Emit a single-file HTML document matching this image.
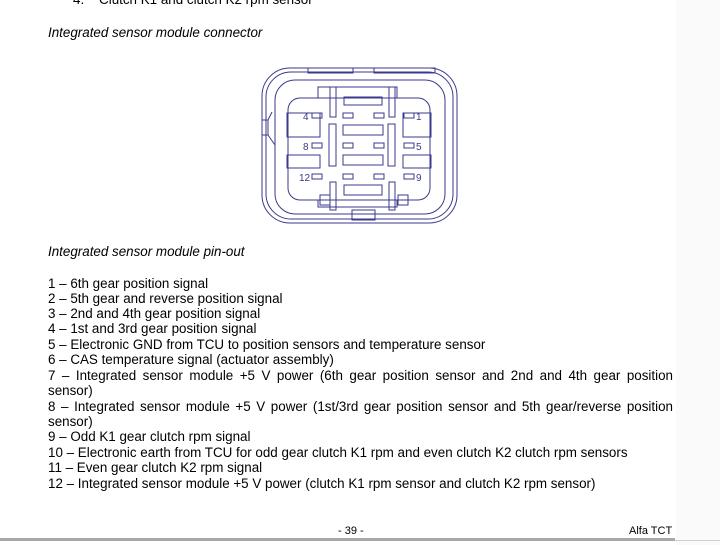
<!DOCTYPE html>
<html><head><meta charset="utf-8"><style>
body{margin:0;width:720px;height:545px;background:#fff;position:relative;overflow:hidden;font-family:"Liberation Sans",Arial,sans-serif;color:#000}
.t{position:absolute;font-size:13.4px;line-height:15.4px;white-space:nowrap}
.j{position:absolute;left:48px;width:625px;font-size:13.4px;line-height:15.4px;text-align:justify;text-align-last:justify;white-space:nowrap}
.i{font-style:italic}
</style></head><body>
<div style="position:absolute;left:676px;top:0;width:44px;height:545px;background:#fafafa"></div>
<div class="t" style="left:73px;top:-8px">4.&nbsp;&nbsp;&nbsp;&nbsp;Clutch K1 and clutch K2 rpm sensor</div>
<div class="t i" style="left:48px;top:25px">Integrated sensor module connector</div>
<svg style="position:absolute;left:0;top:0" width="720" height="545" fill="none" stroke="#3a3a8c" stroke-width="1">
<rect x="262" y="68" width="195" height="155" rx="28"/>
<rect x="266" y="72" width="187" height="147" rx="25"/>
<rect x="308" y="68" width="45" height="5"/><rect x="374" y="68" width="61" height="5"/>
<rect x="352" y="210" width="23" height="10"/>
<rect x="275" y="80" width="170" height="134" rx="20"/>
<path d="M262 120 H268 V135 H262 M268 135 L275 145 M268 120 L272 112"/>
<path d="M318 98 V87 H397 V98 M318 200 V207 H397 V200"/>
<rect x="288" y="98" width="142" height="102" rx="12"/>
<rect x="330" y="87" width="6" height="30"/><rect x="389" y="87" width="6" height="30"/>
<rect x="330" y="182" width="6" height="28"/><rect x="389" y="182" width="6" height="28"/>
<rect x="344" y="97" width="38" height="8"/><rect x="344" y="185" width="38" height="10"/>
<rect x="329" y="124" width="7" height="42"/><rect x="388" y="124" width="7" height="42"/>
<rect x="343" y="125" width="40" height="10"/><rect x="343" y="155" width="40" height="10"/>
<rect x="287" y="113" width="33" height="24"/><rect x="287" y="155" width="33" height="13"/>
<rect x="403" y="113" width="28" height="24"/><rect x="403" y="155" width="28" height="13"/>
<rect x="320" y="195" width="10" height="10"/><rect x="398" y="195" width="10" height="10"/>
<g>
<rect x="312" y="113" width="10" height="5"/><rect x="343" y="113" width="10" height="5"/><rect x="374" y="113" width="10" height="5"/><rect x="404" y="113" width="10" height="5"/>
<rect x="312" y="143" width="10" height="5"/><rect x="343" y="143" width="10" height="5"/><rect x="374" y="143" width="10" height="5"/><rect x="404" y="143" width="10" height="5"/>
<rect x="312" y="174" width="10" height="5"/><rect x="343" y="174" width="10" height="5"/><rect x="374" y="174" width="10" height="5"/><rect x="404" y="174" width="10" height="5"/>
</g>
<g fill="#3a3a8c" stroke="none" font-family="Liberation Sans,sans-serif" font-size="10">
<text x="303" y="120">4</text><text x="416" y="120">1</text>
<text x="303" y="150">8</text><text x="416" y="150">5</text>
<text x="299" y="181">12</text><text x="416" y="181">9</text>
</g>
</svg>
<div class="t i" style="left:48px;top:244px">Integrated sensor module pin-out</div>
<div class="t" style="left:48px;top:276px">1 – 6th gear position signal</div>
<div class="t" style="left:48px;top:291px">2 – 5th gear and reverse position signal</div>
<div class="t" style="left:48px;top:306px">3 – 2nd and 4th gear position signal</div>
<div class="t" style="left:48px;top:321px">4 – 1st and 3rd gear position signal</div>
<div class="t" style="left:48px;top:337px">5 – Electronic GND from TCU to position sensors and temperature sensor</div>
<div class="t" style="left:48px;top:352px">6 – CAS temperature signal (actuator assembly)</div>
<div class="j" style="top:368px">7 – Integrated sensor module +5 V power (6th gear position sensor and 2nd and 4th gear position</div>
<div class="t" style="left:48px;top:383px">sensor)</div>
<div class="j" style="top:399px">8 – Integrated sensor module +5 V power (1st/3rd gear position sensor and 5th gear/reverse position</div>
<div class="t" style="left:48px;top:414px">sensor)</div>
<div class="t" style="left:48px;top:429px">9 – Odd K1 gear clutch rpm signal</div>
<div class="t" style="left:48px;top:445px">10 – Electronic earth from TCU for odd gear clutch K1 rpm and even clutch K2 clutch rpm sensors</div>
<div class="t" style="left:48px;top:460px">11 – Even gear clutch K2 rpm signal</div>
<div class="t" style="left:48px;top:476px">12 – Integrated sensor module +5 V power (clutch K1 rpm sensor and clutch K2 rpm sensor)</div>
<div class="t" style="left:338px;top:524px;font-size:11px">- 39 -</div>
<div class="t" style="left:629px;top:524px;font-size:11px">Alfa TCT</div>
<div style="position:absolute;left:0;top:538px;width:675px;height:3px;background:#a8a8a8"></div>
<div style="position:absolute;left:675px;top:540px;width:45px;height:1px;background:#d0d0d0"></div>
</body></html>
